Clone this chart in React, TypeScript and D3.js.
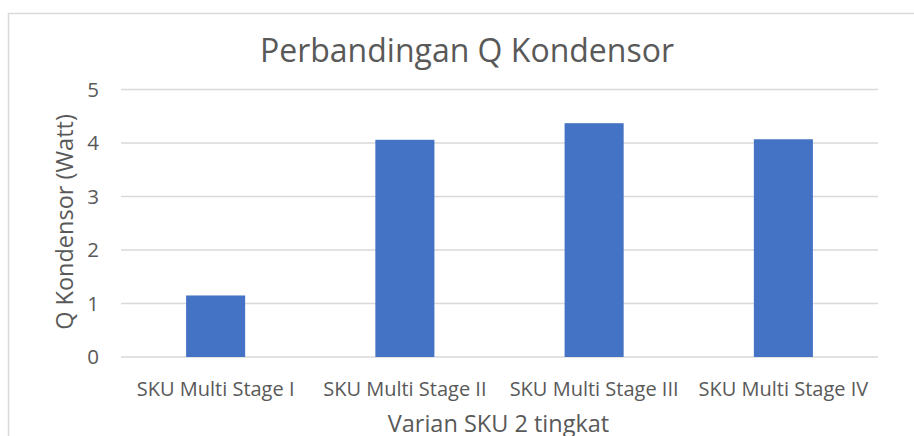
import { useEffect } from 'react';
import * as d3 from 'd3';

// ── Data ──
const categories = [
  'SKU Multi Stage I',
  'SKU Multi Stage II',
  'SKU Multi Stage III',
  'SKU Multi Stage IV',
];
const qValues = [1.15, 4.06, 4.37, 4.07];
const yTicks = [0, 1, 2, 3, 4, 5];

const TITLE = 'Perbandingan Q Kondensor';
const X_TITLE = 'Varian SKU 2 tingkat';
const Y_TITLE = 'Q Kondensor (Watt)';

const W = 914;
const H = 436;
const FONT = '"Open Sans", "Noto Sans", sans-serif';
const TEXT = '#595959';
const GRID = '#d9d9d9';
const BAR = '#4472c4';

export default function App() {
  useEffect(() => {
    document.body.style.margin = '0';
  }, []);

  const x = d3
    .scaleBand<string>()
    .domain(categories)
    .range([121, 878])
    .paddingInner(0.688)
    .paddingOuter(0.344);
  const y = d3.scaleLinear().domain([0, 5]).range([357, 89.5]);

  return (
    <svg width={W} height={H} style={{ display: 'block', fontFamily: FONT }}>
      <rect width={W} height={H} fill="#fff" />
      {/* chart area border (right/bottom run off the picture) */}
      <rect x={8.5} y={13.5} width={1000} height={1000} fill="none" stroke={GRID} strokeWidth={1.5} />

      <text x={467} y={62} textAnchor="middle" fontSize={32} fill={TEXT}>
        {TITLE}
      </text>

      {/* gridlines + y ticks */}
      {yTicks.map((t) => (
        <g key={t}>
          <line x1={121} x2={878} y1={y(t)} y2={y(t)} stroke={GRID} strokeWidth={1.5} />
          <text x={99} y={y(t)} dy="0.36em" textAnchor="end" fontSize={20.5} fill={TEXT}>
            {t}
          </text>
        </g>
      ))}

      {/* bars */}
      {categories.map((c, i) => (
        <rect
          key={c}
          x={x(c)}
          y={y(qValues[i])}
          width={x.bandwidth()}
          height={y(0) - y(qValues[i])}
          fill={BAR}
        />
      ))}

      {/* category labels */}
      {categories.map((c) => (
        <text
          key={c}
          x={(x(c) ?? 0) + x.bandwidth() / 2}
          y={396}
          textAnchor="middle"
          fontSize={20}
          fill={TEXT}
        >
          {c}
        </text>
      ))}

      <text x={498.5} y={432} textAnchor="middle" fontSize={23.5} fill={TEXT}>
        {X_TITLE}
      </text>

      <text
        transform={`translate(73,222) rotate(-90)`}
        textAnchor="middle"
        fontSize={23.5}
        fill={TEXT}
      >
        {Y_TITLE}
      </text>
    </svg>
  );
}
